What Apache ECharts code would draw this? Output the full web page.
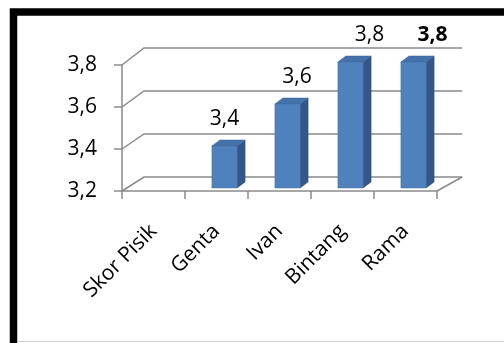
<!DOCTYPE html>
<html><head><meta charset="utf-8">
<script src="https://cdn.jsdelivr.net/npm/echarts@6/dist/echarts.min.js"></script>
<style>html,body{margin:0;padding:0;background:#fff}#c{width:504px;height:343px}</style>
</head><body><div id="c"></div>
<script>
// ---- data ----
const categories = ['Skor Pisik', 'Genta', 'Ivan', 'Bintang', 'Rama'];
const values = [null, 3.4, 3.6, 3.8, 3.8];
const yTicks = [3.2, 3.4, 3.6, 3.8];
const yMin = 3.2, yMax = 3.8, yStep = 0.2;
const boldCategory = 'Rama';

const fmt = v => Number(v).toFixed(1).replace('.', ',');
const FONT = '"Open Sans", sans-serif';
const FS = 21;
const GRID_COLOR = '#8a8a8a';

const chart = echarts.init(document.getElementById('c'), null, {renderer: 'canvas'});

function backPt(cs, x, y) {
  const x0 = cs.x, y0 = cs.y + cs.height;
  return [x0 + 22 + (x - x0) * 1.01, y0 - 14 + (y - y0) * 1.024];
}

const option = {
  animation: false,
  backgroundColor: '#fff',
  graphic: [
    {type: 'rect', z: 100, shape: {x: 13.5, y: 12, width: 640, height: 440},
     style: {fill: null, stroke: '#000', lineWidth: 7.5}},
    {type: 'line', z: 100, shape: {x1: 17, y1: 341.5, x2: 504, y2: 341.5},
     style: {stroke: '#d0d0d0', lineWidth: 1}}
  ],
  grid: {left: 122, right: 67, top: 65, bottom: 152, containLabel: false},
  xAxis: {
    type: 'category', data: categories, boundaryGap: true,
    axisLine: {show: true, lineStyle: {color: GRID_COLOR, width: 1.5}},
    axisTick: {show: true, length: 8, lineStyle: {color: GRID_COLOR, width: 1.5}},
    axisLabel: {rotate: 45, margin: 37, interval: 0, fontFamily: FONT, fontSize: FS, color: '#000'},
    splitLine: {show: false}
  },
  yAxis: {
    type: 'value', min: yMin, max: yMax, interval: yStep,
    axisLine: {show: true, lineStyle: {color: GRID_COLOR, width: 1.5}},
    axisTick: {show: true, length: 8, lineStyle: {color: GRID_COLOR, width: 1.5}},
    axisLabel: {formatter: fmt, margin: 25, fontFamily: FONT, fontSize: FS, color: '#000'},
    splitLine: {show: false}
  },
  series: [
    {
      type: 'custom', name: 'wall', silent: true, z: 1,
      data: yTicks.map(v => [0, v]),
      renderItem(params, api) {
        const cs = params.coordSys;
        const v = api.value(1);
        const y = api.coord([0, v])[1];
        const xl = cs.x, xr = cs.x + cs.width;
        const children = [{
          type: 'polyline',
          shape: {points: [[xl, y], backPt(cs, xl, y), backPt(cs, xr, y)]},
          style: {stroke: GRID_COLOR, lineWidth: 1.5, fill: null}
        }];
        if (Math.abs(v - yMin) < 1e-9) {
          const b = backPt(cs, xr, y);
          children.push({type: 'line', shape: {x1: xr, y1: y, x2: b[0], y2: b[1]},
            style: {stroke: GRID_COLOR, lineWidth: 1.5}});
        }
        return {type: 'group', children};
      }
    },
    {
      type: 'custom', name: 'Skor', z: 5,
      data: values.map((v, i) => [i, v == null ? '-' : v]),
      renderItem(params, api) {
        const i = api.value(0), v = api.value(1);
        if (v == null || isNaN(v)) return null;
        const top = api.coord([i, v]);
        const base = api.coord([i, yMin]);
        const band = api.size([1, 0])[0];
        const w = band * 0.4;
        const fx = top[0] - w / 2 + 8, fy = top[1] - 3, by = base[1] - 3;
        const dx = 8, dy = -6;
        const bold = categories[i] === boldCategory;
        const labelShift = Math.min(Math.max(i - 1, 0), 2) * 9.5;
        return {
          type: 'group',
          children: [
            {type: 'polygon', shape: {points: [[fx + w, fy], [fx + w + dx, fy + dy], [fx + w + dx, by + dy], [fx + w, by]]},
             style: {fill: '#34578a', stroke: '#2c4a75', lineWidth: 0.5}},
            {type: 'polygon', shape: {points: [[fx, fy], [fx + w, fy], [fx + w + dx, fy + dy], [fx + dx, fy + dy]]},
             style: {fill: '#4572ab', stroke: '#3a6297', lineWidth: 0.5}},
            {type: 'rect', shape: {x: fx, y: fy, width: w, height: by - fy},
             style: {fill: '#4f81bd', stroke: '#45729f', lineWidth: 0.5}},
            {type: 'text', style: {text: fmt(v), x: top[0] + 8 + labelShift, y: fy - 27,
              align: 'center', verticalAlign: 'middle', fill: '#000',
              font: (bold ? 'bold ' : '') + FS + 'px ' + FONT}}
          ]
        };
      }
    }
  ]
};
chart.setOption(option);
</script>
</body></html>
